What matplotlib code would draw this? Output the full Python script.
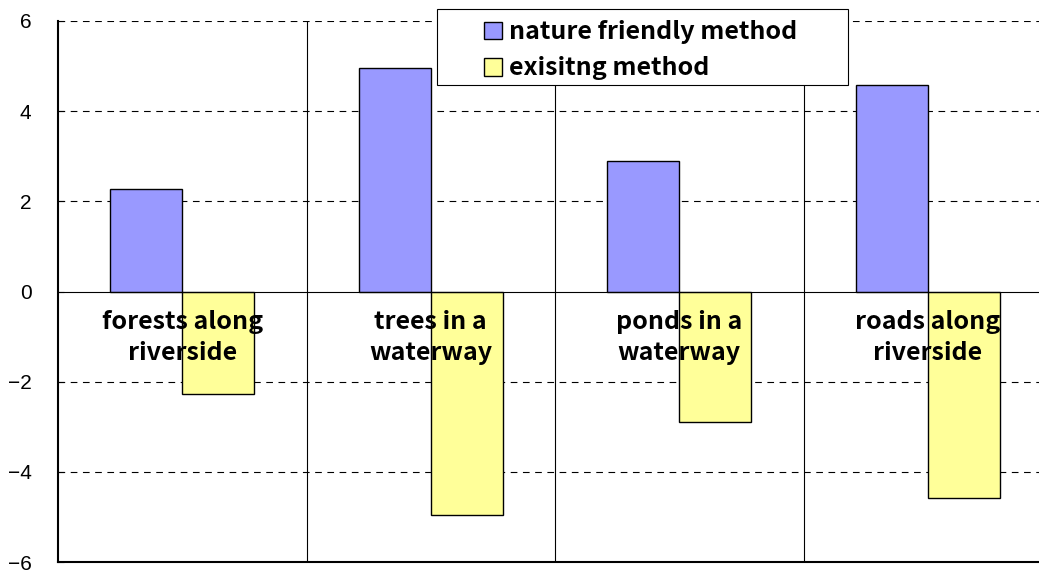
import numpy as np
import matplotlib.pyplot as plt
from matplotlib.patches import Rectangle

categories = ['forests along\nriverside', 'trees in a\nwaterway', 'ponds in a\nwaterway', 'roads along\nriverside']
nature_friendly = [2.28, 4.95, 2.9, 4.58]
existing = [-2.28, -4.95, -2.9, -4.58]
yticks = [-6, -4, -2, 0, 2, 4, 6]

jp = ['Noto Sans CJK JP', 'DejaVu Sans']

fig = plt.figure(figsize=(10.39, 5.74), dpi=100)
# the plot area runs past the right edge of the picture
ax = fig.add_axes([58 / 1039, 12 / 574, 994 / 1039, 541 / 574])

x = np.arange(len(categories))
w = 0.29
ax.bar(x - w / 2, nature_friendly, w, color='#9999ff', edgecolor='black', linewidth=1, zorder=3,
       label='nature friendly method')
ax.bar(x + w / 2, existing, w, color='#ffff99', edgecolor='black', linewidth=1, zorder=3,
       label='exisitng method')

ax.set_xlim(-0.5, len(categories) - 0.5)
ax.set_ylim(-6, 6)
ax.set_yticks(yticks)
ax.set_yticklabels([str(t).replace('-', '\u2212') for t in yticks], fontsize=15,
                   fontfamily='Liberation Sans')
ax.tick_params(axis='y', direction='in', length=4, pad=19)
ax.set_xticks([])

for y in [-4, -2, 2, 4, 6]:
    ax.axhline(y, color='black', linestyle=(0, (6, 5)), linewidth=0.8, zorder=1)
ax.axhline(0, color='black', linewidth=0.8, zorder=4)
for b in [0.5, 1.5, 2.5]:
    ax.axvline(b, color='black', linewidth=0.8, zorder=1)

for s in ['top', 'right']:
    ax.spines[s].set_visible(False)
ax.spines['left'].set_linewidth(1.5)
ax.spines['bottom'].set_linewidth(1.5)

for i, c in enumerate(categories):
    ax.text(i, -1.02, c, ha='center', va='center', fontsize=18, fontweight='bold',
            family=jp, linespacing=1.4, zorder=5)

# legend box drawn separately, legend entries placed inside it
fig.patches.append(Rectangle((437 / 1039, 1 - 85 / 574), 411 / 1039, 76 / 574,
                             transform=fig.transFigure, facecolor='white', edgecolor='black',
                             linewidth=0.8, zorder=9))
handles, labels = ax.get_legend_handles_labels()
leg = fig.legend(handles, labels, loc='upper left', bbox_to_anchor=(484 / 1039, 1 - 20 / 574),
                 bbox_transform=fig.transFigure, frameon=False,
                 prop={'family': jp, 'weight': 'bold', 'size': 18},
                 handlelength=0.7, handleheight=0.7, handletextpad=0.3, borderpad=0,
                 labelspacing=0.5, borderaxespad=0)
leg.set_zorder(10)

fig.savefig('out.png', dpi=100)
